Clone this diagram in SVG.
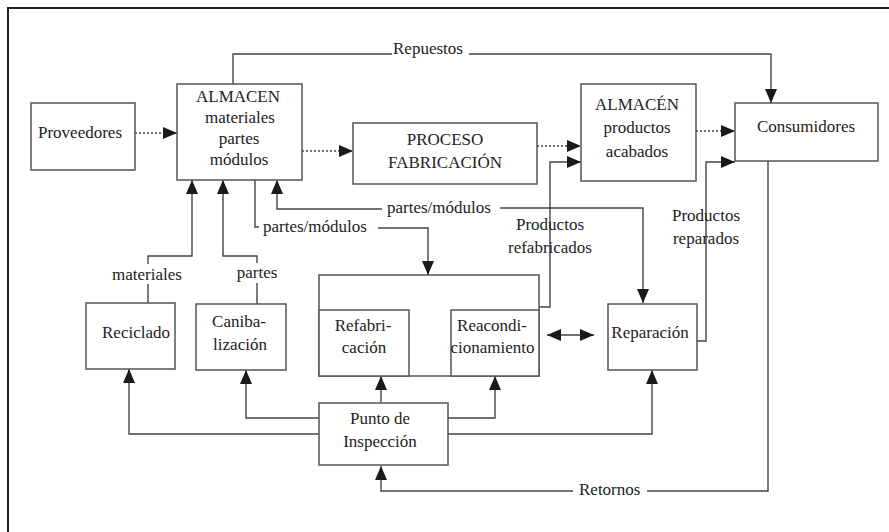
<svg xmlns="http://www.w3.org/2000/svg" width="889" height="532" viewBox="0 0 889 532">
<defs>
<style>
.box{fill:#fff;stroke:#555;stroke-width:1.5}
.frame{fill:none;stroke:#222;stroke-width:2}
.t{font-family:"Liberation Serif","Times New Roman",serif;font-size:17px;fill:#222;text-anchor:middle}
.ts{font-family:"Liberation Serif","Times New Roman",serif;font-size:17px;fill:#222}
.ln{fill:none;stroke:#444;stroke-width:1.4}
.dot{fill:none;stroke:#444;stroke-width:1.4;stroke-dasharray:2 2}
</style>
<marker id="ah" viewBox="0 0 14 12" markerUnits="userSpaceOnUse" markerWidth="14" markerHeight="12" refX="14" refY="6" orient="auto-start-reverse">
<path d="M0,0 L14,6 L0,12 z" fill="#1a1a1a"/>
</marker>
</defs>
<rect x="0" y="0" width="889" height="532" fill="#fff"/>
<path class="frame" d="M8,540 V8 H900"/>

<g id="connectors">
<path class="dot" d="M135,133 H177" marker-end="url(#ah)"/>
<path class="dot" d="M302,151 H353" marker-end="url(#ah)"/>
<path class="dot" d="M537,146 H581" marker-end="url(#ah)"/>
<path class="dot" d="M696,131 H735" marker-end="url(#ah)"/>
<path class="ln" d="M233,84 V54 H392"/>
<path class="ln" d="M469,54 H771 V103" marker-end="url(#ah)"/>
<text class="ts" x="393" y="54">Repuestos</text>
<path class="ln" d="M148,303 V284"/>
<path class="ln" d="M148,264 V256 H192 V180" marker-end="url(#ah)"/>
<text class="t" x="147" y="280">materiales</text>
<path class="ln" d="M257,304 V283"/>
<path class="ln" d="M257,263 V256 H223 V180" marker-end="url(#ah)"/>
<text class="t" x="257" y="278">partes</text>
<path class="ln" d="M255,180 V227 H259"/>
<text class="ts" x="263" y="232">partes/módulos</text>
<path class="ln" d="M378,228 H428 V275" marker-end="url(#ah)"/>
<path class="ln" d="M382,209 H277 V180" marker-end="url(#ah)"/>
<text class="ts" x="387" y="213">partes/módulos</text>
<path class="ln" d="M500,208 H643 V303" marker-end="url(#ah)"/>
<path class="ln" d="M539,307 H550 V162 H581" marker-end="url(#ah)"/>
<text class="t" x="550" y="230">Productos</text>
<text class="t" x="550" y="253">refabricados</text>
<path class="ln" d="M697,341 H706 V162 H735" marker-end="url(#ah)"/>
<text class="t" x="706" y="221">Productos</text>
<text class="t" x="706" y="244">reparados</text>
<path class="ln" d="M768,161 V491 H647"/>
<text class="ts" x="579" y="495">Retornos</text>
<path class="ln" d="M573,491 H381 V466" marker-end="url(#ah)"/>
<path class="ln" d="M381,403 V376" marker-end="url(#ah)"/>
<path class="ln" d="M319,418 H246 V370" marker-end="url(#ah)"/>
<path class="ln" d="M319,434 H129 V369" marker-end="url(#ah)"/>
<path class="ln" d="M448,418 H495 V376" marker-end="url(#ah)"/>
<path class="ln" d="M448,434 H652 V370" marker-end="url(#ah)"/>
<path class="ln" d="M547,335 H594" marker-start="url(#ah)" marker-end="url(#ah)"/>
</g>

<g id="proveedores">
<rect class="box" x="31" y="103" width="104" height="67"/>
<text class="t" x="80" y="138">Proveedores</text>
</g>
<g id="almacen-materiales">
<rect class="box" x="177" y="84" width="125" height="96"/>
<text class="t" x="238" y="102">ALMACEN</text>
<text class="t" x="240" y="123">materiales</text>
<text class="t" x="239" y="144">partes</text>
<text class="t" x="239" y="165">módulos</text>
</g>
<g id="proceso">
<rect class="box" x="353" y="123" width="184" height="61"/>
<text class="t" x="445" y="145">PROCESO</text>
<text class="t" x="445" y="168">FABRICACIÓN</text>
</g>
<g id="almacen-productos">
<rect class="box" x="581" y="84" width="115" height="97"/>
<text class="t" x="637" y="110">ALMACÉN</text>
<text class="t" x="637" y="133">productos</text>
<text class="t" x="637" y="157">acabados</text>
</g>
<g id="consumidores">
<rect class="box" x="735" y="103" width="143" height="58"/>
<text class="t" x="806" y="132">Consumidores</text>
</g>
<g id="reciclado">
<rect class="box" x="86" y="303" width="89" height="66"/>
<text class="t" x="136" y="338">Reciclado</text>
</g>
<g id="canibalizacion">
<rect class="box" x="196" y="304" width="90" height="66"/>
<text class="t" x="239" y="327">Caniba-</text>
<text class="t" x="240" y="350">lización</text>
</g>
<g id="refab-reacond">
<rect class="box" x="319" y="275" width="220" height="101"/>
</g>
<g id="refabricacion">
<rect class="box" x="319" y="310" width="90" height="66"/>
<text class="t" x="363" y="331">Refabri-</text>
<text class="t" x="364" y="353">cación</text>
</g>
<g id="reacondicionamiento">
<rect class="box" x="451" y="310" width="88" height="66"/>
<text class="t" x="492" y="331">Reacondi-</text>
<text class="t" x="492.5" y="353">cionamiento</text>
</g>
<g id="reparacion">
<rect class="box" x="608" y="304" width="89" height="66"/>
<text class="t" x="650" y="338">Reparación</text>
</g>
<g id="punto-inspeccion">
<rect class="box" x="319" y="403" width="129" height="62"/>
<text class="t" x="380" y="424">Punto de</text>
<text class="t" x="380" y="447">Inspección</text>
</g>
</svg>
